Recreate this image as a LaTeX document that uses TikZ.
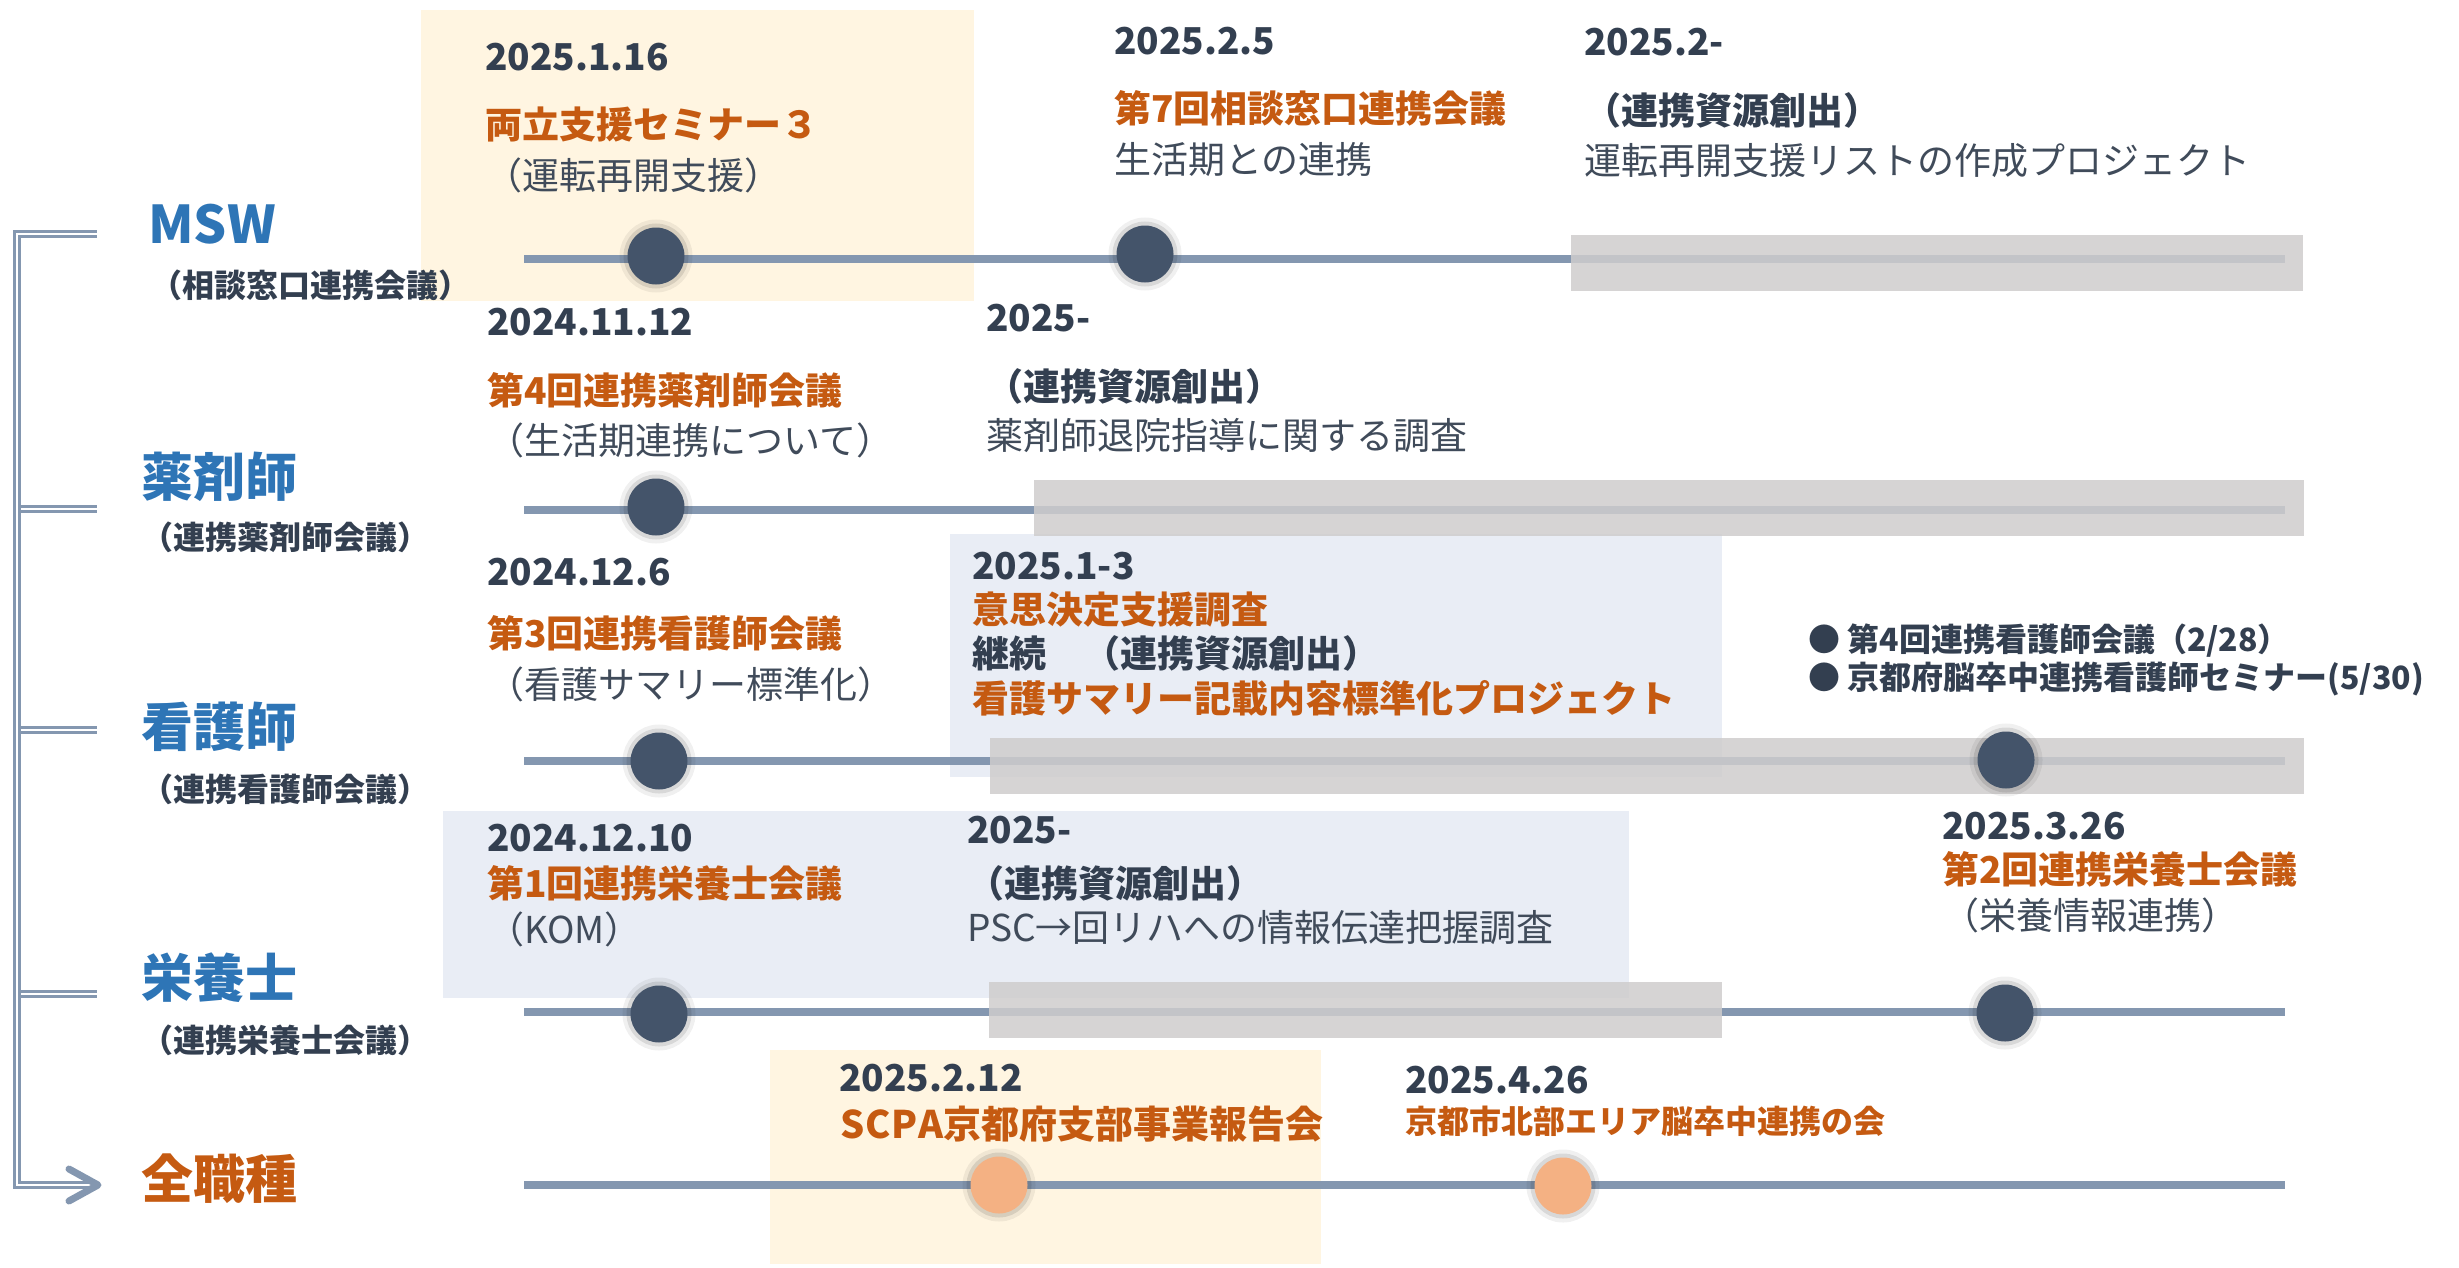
\documentclass[tikz,border=0pt]{standalone}
\usepackage{fontspec}
\setmainfont{Noto Sans CJK JP}
\usetikzlibrary{arrows.meta}
\definecolor{navy}{HTML}{44546A}
\definecolor{peach}{HTML}{F4B183}
\definecolor{lineblue}{HTML}{8497B0}
\definecolor{bandgray}{HTML}{CFCDCD}
\definecolor{cream}{HTML}{FFF5E1}
\definecolor{paleblue}{HTML}{E9EDF5}
\definecolor{orangetxt}{HTML}{C55A11}
\definecolor{bluetxt}{HTML}{2E75B6}
\definecolor{darktxt}{HTML}{333F50}
\definecolor{desccol}{HTML}{404B5A}
\tikzset{
  tline/.style={draw=lineblue, line width=8pt},
  band/.style={fill=bandgray, fill opacity=0.85},
  navydot/.style={circle, fill=navy, minimum size=57pt, inner sep=0pt,
    preaction={draw=black, opacity=0.06, line width=16pt},
    preaction={draw=black, opacity=0.10, line width=8pt}},
  peachdot/.style={navydot, fill=peach},
  txt/.style={anchor=west, inner sep=0pt},
  datetxt/.style={txt, text=darktxt, font=\fontsize{37}{44}\selectfont\bfseries},
  titletxt/.style={txt, text=orangetxt, font=\fontsize{37}{44}\selectfont\bfseries},
  boldtxt/.style={txt, text=darktxt, font=\fontsize{37}{44}\selectfont\bfseries},
  desctxt/.style={txt, text=desccol, font=\fontsize{37}{44}\selectfont},
  smalltxt/.style={txt, text=darktxt, font=\fontsize{32}{38}\selectfont\bfseries},
  rowlbl/.style={txt, text=bluetxt, font=\fontsize{52}{60}\selectfont\bfseries},
  rowsub/.style={txt, text=darktxt, font=\fontsize{32}{38}\selectfont\bfseries},
  bracket/.style={draw=lineblue, line width=3pt, double=white, double distance=1.5pt},
  chevron/.style={draw=lineblue, line width=7pt, line cap=round, line join=round},
}
\begin{document}
\begin{tikzpicture}[x=1pt,y=-1pt]
\useasboundingbox (0,0) rectangle (2459,1268);
% highlight boxes
\fill[cream] (421,10) rectangle (974,301);
\fill[cream] (770,1050) rectangle (1321,1264);
\fill[paleblue] (950,534) rectangle (1722,777);
\fill[paleblue] (443,811) rectangle (1629,998);
% timelines
\foreach \yy/\n in {259/1,510/2,761/3,1012/4,1185/5}{
  \coordinate (ls\n) at (524,\yy);
  \coordinate (le\n) at (2285,\yy);
  \draw[tline] (ls\n) -- (le\n);
}
% grey bands
\fill[band] (1571,235) rectangle (2303,291);
\fill[band] (1034,480) rectangle (2304,536);
\fill[band] (990,738) rectangle (2304,794);
\fill[band] (989,982) rectangle (1722,1038);
% dots
\node[navydot] (m1) at (656,256) {};
\node[navydot] (m2) at (1145,254) {};
\node[navydot] (p1) at (656,507) {};
\node[navydot] (n1) at (659,761) {};
\node[navydot] (n2) at (2006,760) {};
\node[navydot] (e1) at (659,1014) {};
\node[navydot] (e2) at (2005,1013) {};
\node[peachdot] (a1) at (999,1185) {};
\node[peachdot] (a2) at (1563,1186) {};
% row labels
\node[rowlbl] (lMSW) at (148,224) {MSW};
\node[rowsub] (sMSW) at (150,285) {（相談窓口連携会議）};
\node[rowlbl] (lPh) at (141,477) {薬剤師};
\node[rowsub] (sPh) at (141,537) {（連携薬剤師会議）};
\node[rowlbl] (lNs) at (141,727) {看護師};
\node[rowsub] (sNs) at (141,789) {（連携看護師会議）};
\node[rowlbl] (lNt) at (141,978) {栄養士};
\node[rowsub] (sNt) at (141,1040) {（連携栄養士会議）};
\node[rowlbl, text=orangetxt] (lAll) at (141,1179) {全職種};
% bracket
\coordinate (bt) at (17,234);
\coordinate (bb) at (17,1185);
\coordinate (k1) at (97,234);
\coordinate (k2) at (97,509);
\coordinate (k3) at (97,730);
\coordinate (k4) at (97,994);
\coordinate (tipbase) at (90,1185);
\coordinate (tip) at (98,1185);
\coordinate (barbup) at (69,1169);
\coordinate (barbdn) at (69,1201);
\draw[bracket] (bt |- k2) ++(3.5,0) -- (k2);
\draw[bracket] (bt |- k3) ++(3.5,0) -- (k3);
\draw[bracket] (bt |- k4) ++(3.5,0) -- (k4);
\draw[bracket] (k1) -- (bt) -- (bb) -- (tipbase);
\draw[chevron] (barbup) -- (tip) -- (barbdn);
% MSW row
\node[datetxt] (d1) at (485,57) {2025.1.16};
\node[titletxt] (t1) at (485,124) {両立支援セミナー３};
\node[desctxt] (c1) at (485,175) {（運転再開支援）};
\node[datetxt] (d2) at (1114,41) {2025.2.5};
\node[titletxt] (t2) at (1114,108) {第7回相談窓口連携会議};
\node[desctxt] (c2) at (1114,159) {生活期との連携};
\node[datetxt] (d3) at (1584,42) {2025.2-};
\node[boldtxt] (t3) at (1584,110) {（連携資源創出）};
\node[desctxt] (c3) at (1584,161) {運転再開支援リストの作成プロジェクト};
% pharmacist row
\node[datetxt] (d4) at (487,322) {2024.11.12};
\node[titletxt] (t4) at (487,390) {第4回連携薬剤師会議};
\node[desctxt] (c4) at (487,440) {（生活期連携について）};
\node[datetxt] (d5) at (986,318) {2025-};
\node[boldtxt] (t5) at (986,386) {（連携資源創出）};
\node[desctxt] (c5) at (986,436) {薬剤師退院指導に関する調査};
% nurse row
\node[datetxt] (d6) at (487,572) {2024.12.6};
\node[titletxt] (t6) at (487,633) {第3回連携看護師会議};
\node[desctxt] (c6) at (487,684) {（看護サマリー標準化）};
\node[datetxt] (d7) at (972,566) {2025.1-3};
\node[titletxt] (t7) at (972,610) {意思決定支援調査};
\node[boldtxt] (t7b) at (972,653) {継続　（連携資源創出）};
\node[titletxt] (t7c) at (972,698) {看護サマリー記載内容標準化プロジェクト};
\node[smalltxt] (b1) at (1808,641) {● 第4回連携看護師会議（2/28）};
\node[smalltxt] (b2) at (1808,679) {● 京都府脳卒中連携看護師セミナー(5/30)};
\node[datetxt] (d8) at (1942,826) {2025.3.26};
\node[titletxt] (t8) at (1942,869) {第2回連携栄養士会議};
\node[desctxt] (c8) at (1942,915) {（栄養情報連携）};
% dietitian row
\node[datetxt] (d9) at (487,838) {2024.12.10};
\node[titletxt] (t9) at (487,883) {第1回連携栄養士会議};
\node[desctxt] (c9) at (487,929) {（KOM）};
\node[datetxt] (d10) at (967,830) {2025-};
\node[boldtxt] (t10) at (967,883) {（連携資源創出）};
\node[desctxt] (c10) at (967,928) {PSC→回リハへの情報伝達把握調査};
% all professions row
\node[datetxt] (d11) at (839,1078) {2025.2.12};
\node[titletxt, font=\fontsize{38}{45}\selectfont\bfseries] (t11) at (840,1124) {S\kern1pt C\kern1pt P\kern1pt A京都府支部事業報告会};
\node[datetxt] (d12) at (1405,1080) {2025.4.26};
\node[titletxt, font=\fontsize{32}{38}\selectfont\bfseries] (t12) at (1405,1121) {京都市北部エリア脳卒中連携の会};
\end{tikzpicture}
\end{document}
